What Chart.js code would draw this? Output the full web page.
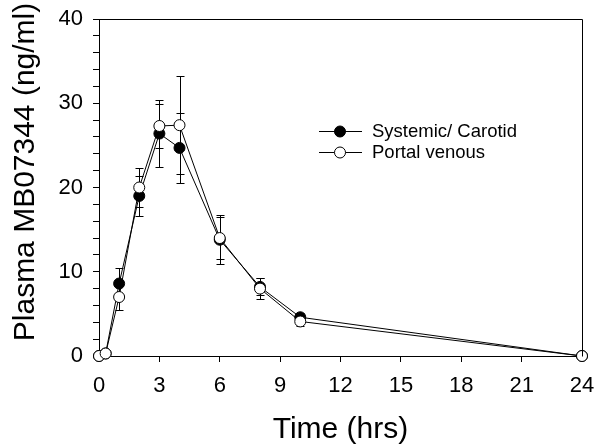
<!DOCTYPE html>
<html>
<head>
<meta charset="utf-8">
<script src="https://cdn.jsdelivr.net/npm/chart.js@4/dist/chart.umd.min.js"></script>
<style>
  html, body { margin: 0; padding: 0; background: #fff; }
  #wrap { width: 597px; height: 446px; position: relative; }
</style>
</head>
<body>
<div id="wrap"><canvas id="c"></canvas></div>
<script>
const timeHours    = [0, 0.33, 1, 2, 3, 4, 6, 8, 10, 24];
const systemicMean = [0, 0.3, 8.6, 19.0, 26.4, 24.7, 13.8, 8.2, 4.6, 0];
const systemicSD   = [0, 0, 1.8, 2.4, 4.0, 4.2, 2.9, 1.0, 0.5, 0];
const portalMean   = [0, 0.3, 7.0, 20.0, 27.3, 27.4, 14.0, 8.0, 4.1, 0];
const portalSD     = [0, 0, 1.5, 2.3, 2.6, 5.8, 2.5, 1.2, 0.5, 0];
const seriesNames  = ['Systemic/ Carotid', 'Portal venous'];
const xTitle = 'Time (hrs)';
const yTitle = 'Plasma MB07344 (ng/ml)';

const FONT = "'Liberation Sans', Arial, sans-serif";

function pts(xs, ys) { return xs.map((x, i) => ({x: x, y: ys[i]})); }

const errorBars = {
  id: 'errorBars',
  beforeDatasetsDraw(chart) {
    const ctx = chart.ctx;
    const xs = chart.scales.x, ys = chart.scales.y;
    ctx.save();
    ctx.strokeStyle = '#000';
    ctx.lineWidth = 1;
    chart.data.datasets.forEach(ds => {
      ds.data.forEach((p, i) => {
        const sd = ds.sd[i];
        if (!sd) return;
        const px = Math.round(xs.getPixelForValue(p.x)) + 0.5;
        const yTop = Math.round(ys.getPixelForValue(p.y + sd)) + 0.5;
        const yBot = Math.round(ys.getPixelForValue(p.y - sd)) + 0.5;
        ctx.beginPath();
        ctx.moveTo(px, yTop); ctx.lineTo(px, yBot);
        ctx.moveTo(px - 4, yTop); ctx.lineTo(px + 4, yTop);
        ctx.moveTo(px - 4, yBot); ctx.lineTo(px + 4, yBot);
        ctx.stroke();
      });
    });
    ctx.restore();
  }
};

const frameAndLegend = {
  id: 'frameAndLegend',
  afterDraw(chart) {
    const ctx = chart.ctx;
    const a = chart.chartArea;
    ctx.save();
    ctx.strokeStyle = '#000';
    ctx.lineWidth = 1;
    ctx.beginPath();
    ctx.moveTo(Math.round(a.left) + 0.5, Math.round(a.top) + 0.5);
    ctx.lineTo(Math.round(a.right) + 0.5, Math.round(a.top) + 0.5);
    ctx.lineTo(Math.round(a.right) + 0.5, Math.round(a.bottom) + 0.5);
    ctx.stroke();

    // y-axis title (rotated)
    ctx.save();
    ctx.translate(26, a.top + 153);
    ctx.rotate(-Math.PI / 2);
    ctx.font = "30px " + FONT;
    ctx.textAlign = 'center';
    ctx.textBaseline = 'middle';
    ctx.fillStyle = '#000';
    ctx.fillText(yTitle, 0, 0);
    ctx.restore();

    // legend
    const lx0 = a.left + 220, lx1 = a.left + 263, mx = a.left + 241, tx = a.left + 273;
    const rows = [a.top + 112, a.top + 133];
    const fills = ['#000', '#fff'];
    ctx.font = "18.5px " + FONT;
    ctx.textBaseline = 'middle';
    ctx.fillStyle = '#000';
    rows.forEach((y, i) => {
      ctx.beginPath();
      ctx.moveTo(lx0, y + 0.5); ctx.lineTo(lx1, y + 0.5);
      ctx.stroke();
      ctx.beginPath();
      ctx.arc(mx, y + 0.5, 5.5, 0, Math.PI * 2);
      ctx.fillStyle = fills[i];
      ctx.fill();
      ctx.stroke();
      ctx.fillStyle = '#000';
      ctx.fillText(seriesNames[i], tx, y + 1);
    });
    ctx.restore();
  }
};

new Chart(document.getElementById('c'), {
  type: 'line',
  data: {
    datasets: [
      {
        label: seriesNames[0],
        data: pts(timeHours, systemicMean),
        sd: systemicSD,
        borderColor: '#000',
        borderWidth: 1,
        backgroundColor: '#000',
        pointBackgroundColor: '#000',
        pointBorderColor: '#000',
        pointBorderWidth: 1,
        pointRadius: 5.5,
        tension: 0,
        clip: false,
        order: 1
      },
      {
        label: seriesNames[1],
        data: pts(timeHours, portalMean),
        sd: portalSD,
        borderColor: '#000',
        borderWidth: 1,
        backgroundColor: '#fff',
        pointBackgroundColor: '#fff',
        pointBorderColor: '#000',
        pointBorderWidth: 1,
        pointRadius: 5.5,
        tension: 0,
        clip: false,
        order: 0
      }
    ]
  },
  options: {
    responsive: true,
    maintainAspectRatio: false,
    animation: false,
    events: [],
    layout: { padding: { top: 19, right: 15, left: 0, bottom: 0 } },
    plugins: { legend: { display: false }, tooltip: { enabled: false } },
    scales: {
      x: {
        type: 'linear',
        min: 0, max: 24,
        afterFit(s) { s.height = 90; s.paddingLeft = 0; s.paddingRight = 0; },
        border: { display: true, color: '#000', width: 1 },
        grid: { display: true, drawOnChartArea: false, drawTicks: true, tickLength: 6, color: '#000' },
        ticks: { stepSize: 3, color: '#000', padding: 11, font: { family: FONT, size: 22 }, maxRotation: 0 },
        title: { display: true, text: xTitle, color: '#000', font: { family: FONT, size: 30 }, padding: { top: 0, bottom: -2 } }
      },
      y: {
        type: 'linear',
        min: 0, max: 40,
        afterFit(s) { s.width = 99; s.paddingTop = 0; s.paddingBottom = 0; },
        border: { display: true, color: '#000', width: 1 },
        grid: { display: true, drawOnChartArea: false, drawTicks: true, tickLength: 6, color: '#000' },
        ticks: {
          stepSize: 2, color: '#000', padding: 10, autoSkip: false,
          font: { family: FONT, size: 22 },
          callback: v => (v % 10 === 0 ? String(v) : '')
        },
        title: { display: false }
      }
    }
  },
  plugins: [errorBars, frameAndLegend]
});
</script>
</body>
</html>
